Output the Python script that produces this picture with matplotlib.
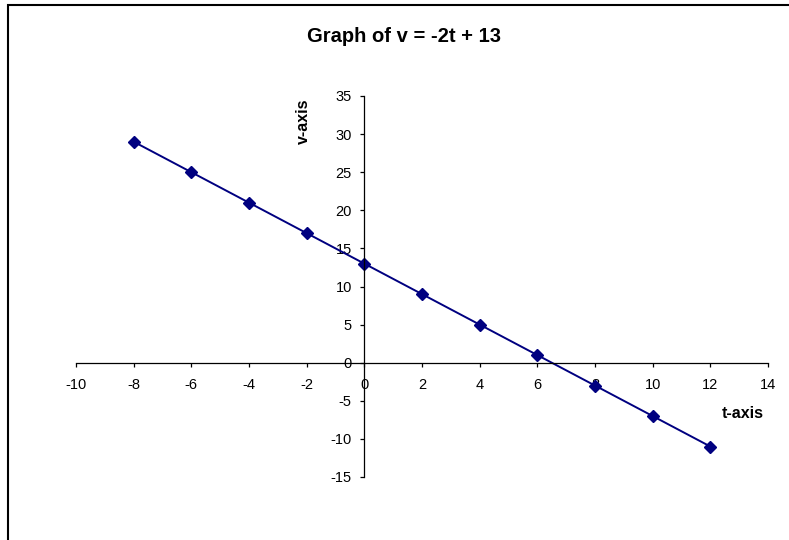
import matplotlib
matplotlib.use("Agg")
import matplotlib.pyplot as plt
from matplotlib.patches import Rectangle

plt.rcParams["font.family"] = ["Liberation Sans", "DejaVu Sans"]
plt.rcParams["axes.unicode_minus"] = False

# data: v = -2t + 13
t_vals = [-8, -6, -4, -2, 0, 2, 4, 6, 8, 10, 12]
v_vals = [29, 25, 21, 17, 13, 9, 5, 1, -3, -7, -11]
x_ticks = list(range(-10, 15, 2))
y_ticks = list(range(-15, 36, 5))

W, H = 789, 540
fig = plt.figure(figsize=(W / 100, H / 100), dpi=100)
ax = fig.add_axes([76 / W, 1 - 477 / H, (768 - 76) / W, (477 - 96) / H])

ax.plot(t_vals, v_vals, color="#000080", lw=1.4, marker="D", ms=6.5,
        mfc="#000080", mec="#000080")

ax.set_xlim(-10, 14)
ax.set_ylim(-15, 35)
ax.set_xticks(x_ticks)
ax.set_yticks(y_ticks)

ax.spines["left"].set_position(("data", 0))
ax.spines["bottom"].set_position(("data", 0))
ax.spines["right"].set_visible(False)
ax.spines["top"].set_visible(False)
for s in ("left", "bottom"):
    ax.spines[s].set_linewidth(0.9)
ax.tick_params(direction="out", length=3, width=0.9, labelsize=10.5)
ax.tick_params(axis="x", pad=8)
ax.tick_params(axis="y", pad=6)
ax.patch.set_visible(False)

fig.text(404 / W, 1 - 37 / H, "Graph of v = -2t + 13", ha="center", va="center",
         fontsize=14.5, fontweight="bold")
fig.text(743 / W, 1 - 414 / H, "t-axis", ha="center", va="center",
         fontsize=11.5, fontweight="bold")
fig.text(303 / W, 1 - 121 / H, "v-axis", ha="center", va="center",
         fontsize=11.5, fontweight="bold", rotation=90)

# chart-area border (cropped at right and bottom)
fig.add_artist(Rectangle((8 / W, -0.1), 1.0, 1 - 5 / H + 0.1, transform=fig.transFigure,
                         fill=False, lw=1.5, ec="black"))

fig.savefig("out.png", dpi=100)
